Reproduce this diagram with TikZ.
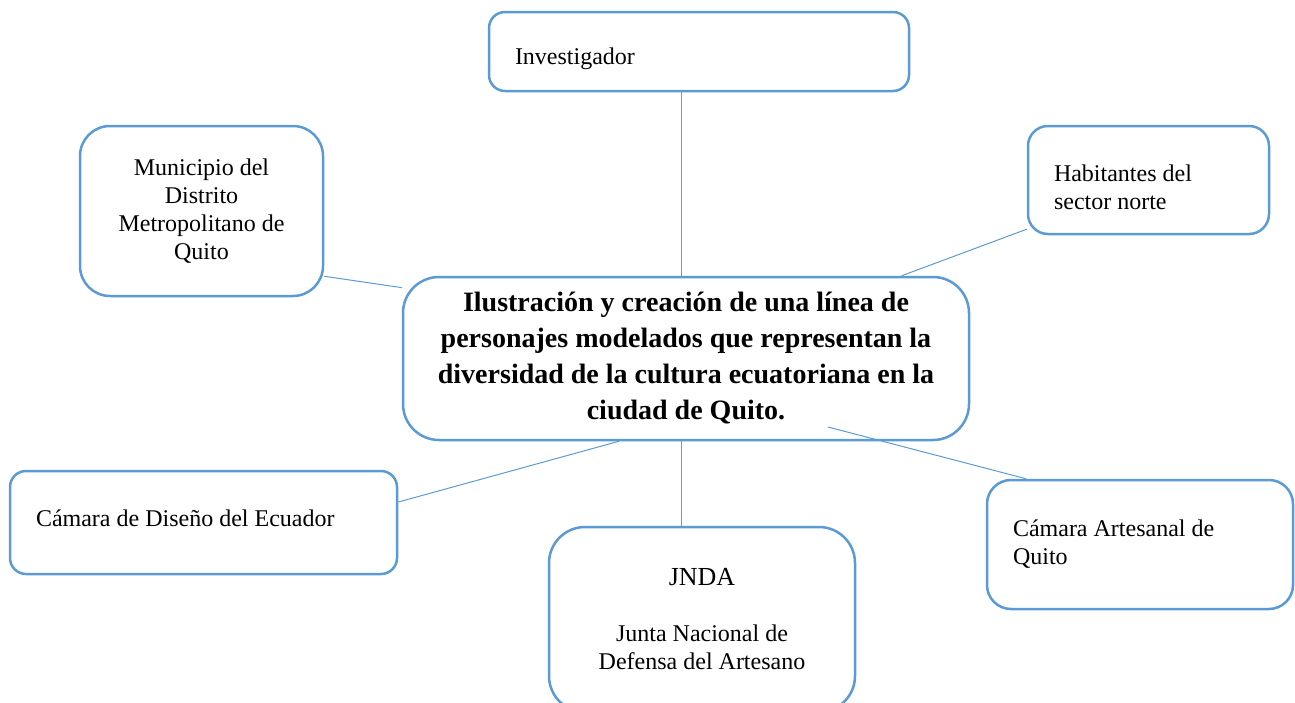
\documentclass[tikz,border=0pt]{standalone}
\usepackage{fontspec}
\setmainfont{Liberation Serif}
\definecolor{boxblue}{HTML}{5B9BD5}
\newcommand{\alto}[1]{\rule{0pt}{#1}}
\tikzset{
	caja/.style={draw=boxblue, line width=1.25pt, rounded corners=#1, inner xsep=13pt, inner ysep=0pt, font=\fontsize{12}{14}\selectfont},
	caja/.default=10pt,
	izq/.style={text width=#1, execute at begin node={\raggedright\spaceskip=0pt\xspaceskip=0pt\relax}},
	enlace/.style={draw=boxblue, line width=0.5pt}
}
\begin{document}
\begin{tikzpicture}[x=0.5pt,y=-0.5pt]
		\useasboundingbox (0,0) rectangle (1295,702);
		\node[caja=8pt, minimum width=210pt, minimum height=39.5pt, izq=184pt] (inv) at (699,51.5) {\alto{16pt}Investigador};
		\node[caja=15pt, minimum width=121.5pt, minimum height=85pt, inner xsep=2pt, align=center] (mun) at (201.5,211) {Municipio del\\Distrito\\Metropolitano de\\Quito};
		\node[caja=10pt, minimum width=120.5pt, minimum height=54pt, izq=94.5pt] (hab) at (1148.5,180) {\alto{15.7pt}Habitantes del\\sector norte};
		\node[caja=18pt, minimum width=283pt, minimum height=81.5pt, inner xsep=4pt, align=center, font=\fontsize{14}{18}\selectfont\bfseries] (cen) at (686,358.5) {Ilustración y creación de una línea de\\personajes modelados que representan la\\diversidad de la cultura ecuatoriana en la\\ciudad de Quito.};
		\node[caja=8pt, minimum width=193.5pt, minimum height=51.5pt, izq=167.5pt] (dis) at (203.5,522.5) {Cámara de Diseño del Ecuador\rule[-4pt]{0pt}{4pt}};
		\node[caja=18pt, minimum width=153pt, minimum height=92.5pt, inner xsep=4pt, align=center] (jnda) at (702,619.5) {{\fontsize{13}{14}\selectfont JNDA}\\[14pt]Junta Nacional de\\Defensa del Artesano};
		\node[caja=12pt, minimum width=153pt, minimum height=64.5pt, izq=127pt] (art) at (1140,544.5) {Cámara Artesanal de\\Quito};
		
		\draw[enlace] ([xshift=-2.5pt]cen.north) to ([xshift=-2.5pt]cen.north |- inv.south);
		\draw[enlace] (mun.-28) to (cen.166);
		\draw[enlace] (hab.202) to (cen.21);
		\draw[enlace] (dis.6) to (cen.231);
		\draw[enlace] ([xshift=-2.5pt]cen.south) to ([xshift=-2.5pt]cen.south |- jnda.north);
		\draw[enlace] (art.150) to ([shift={(142,68.5)}]cen.center);
\end{tikzpicture}
\end{document}
